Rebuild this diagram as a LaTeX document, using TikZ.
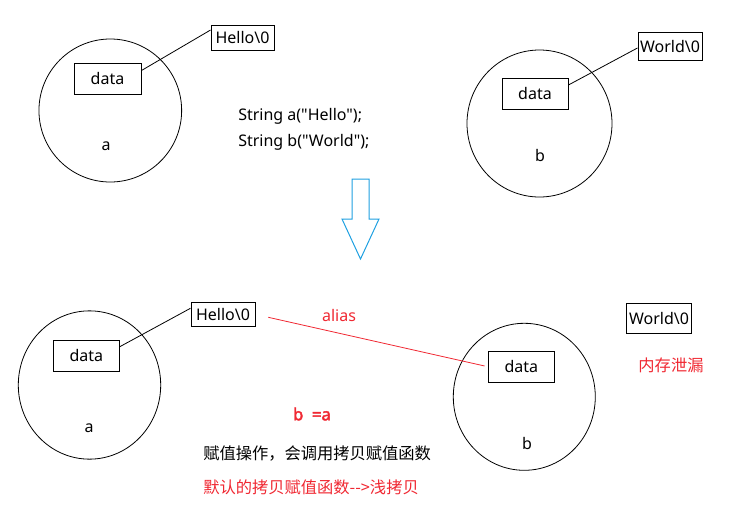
\documentclass[tikz,border=0pt]{standalone}
\usepackage{fontspec}
\newfontfamily\lat{Noto Sans}
\newfontfamily\latb{Noto Sans}[FakeBold=2.5]
\newfontfamily\cjk{Noto Sans CJK SC}
\usetikzlibrary{shapes.geometric}
\definecolor{hred}{RGB}{240,40,50}
\definecolor{hblue}{RGB}{30,160,225}
\tikzset{
  bx/.style 2 args={draw, line width=0.75pt, minimum width=#1*0.75pt, minimum height=#2*0.75pt, inner sep=0pt, font=\fontsize{12}{14}\selectfont\lat},
  ring/.style 2 args={draw, ellipse, line width=0.6pt, minimum width=#1*0.75pt, minimum height=#2*0.75pt, inner sep=0pt},
  txt/.style={inner sep=0pt, font=\fontsize{12}{14}\selectfont\lat},
  ctxt/.style={inner sep=0pt, font=\fontsize{12.2}{14}\selectfont\cjk},
  link/.style={line width=0.6pt},
}
\begin{document}
\begin{tikzpicture}[x=0.75pt,y=-0.75pt]
\useasboundingbox (0,0) rectangle (729,508);
% top left
\node[ring={142.7}{143}] (ca1) at (110.3,110.5) {};
\node[bx={67}{31}] (da1) at (107.5,78.5) {data};
\node[bx={63}{25}] (h1) at (242.5,37.5) {Hello\textbackslash 0};
\node[txt] (la1) at (106,146) {a};
\draw[link] ([yshift=6pt]da1.east) -- ([yshift=5.6pt]h1.west);
% top right
\node[ring={145}{147}] (cb1) at (539.5,123.5) {};
\node[bx={66}{31}] (db1) at (535,93.5) {data};
\node[bx={64}{28}] (w1) at (670,46.5) {World\textbackslash 0};
\node[txt] (lb1) at (540,155) {b};
\draw[link] ([yshift=6.4pt]db1.east) -- ([yshift=-1.1pt]w1.west);
% code
\node[txt, anchor=west] (c1) at (238,116) {String a("Hello");};
\node[txt, anchor=west] (c2) at (238,142) {String b("World");};
% arrow
\draw[hblue, line width=0.75pt] (352,179) -- (369,179) -- (369,219) -- (379,219) -- (360.5,259) -- (342,219) -- (352,219) -- cycle;
% bottom left
\node[ring={142.4}{148.3}] (ca2) at (89.5,385) {};
\node[bx={66}{31}] (da2) at (86.3,355.5) {data};
\node[bx={64}{24}] (h2) at (223,314) {Hello\textbackslash 0};
\node[txt] (la2) at (89,428) {a};
\draw[link] ([yshift=6.6pt]da2.east) -- ([yshift=4.3pt]h2.west);
% bottom right
\node[ring={142}{147}] (cb2) at (524.3,396.8) {};
\node[bx={66}{31}] (db2) at (521.3,366.7) {data};
\node[bx={65}{30}] (w2) at (659,318.3) {World\textbackslash 0};
\node[txt] (lb2) at (527,443) {b};
\coordinate (al) at (268.3,317.3);
\draw[link, hred, shorten >=2.5pt] (al) -- (db2.west);
\node[txt, text=hred] (alias) at (339,315) {alias};
\node[ctxt, text=hred] (leak) at (671,365) {内存泄漏};
\node[txt, text=hred, font=\fontsize{12.5}{14}\selectfont\latb] (ba) at (312,414) {b\ \ =a};
\node[ctxt, anchor=west] (t1) at (203,454) {赋值操作，会调用拷贝赋值函数};
\node[ctxt, anchor=west, text=hred] (t2) at (203,487) {默认的拷贝赋值函数{-}{-}>浅拷贝};
\end{tikzpicture}
\end{document}
